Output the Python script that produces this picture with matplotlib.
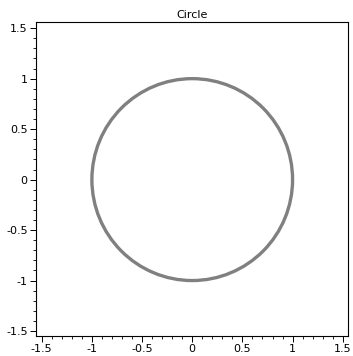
import matplotlib
matplotlib.use('Agg')
import matplotlib.pyplot as plt
from matplotlib.patches import Circle
from matplotlib.ticker import MultipleLocator

# data
center = (0.0, 0.0)
radius = 1.0
ticks = [-1.5, -1, -0.5, 0, 0.5, 1, 1.5]
tick_labels = ['-1.5', '-1', '-0.5', '0', '0.5', '1', '1.5']

plt.rcParams['axes.unicode_minus'] = False

fig = plt.figure(figsize=(3.53, 3.56), dpi=100)
ax = fig.add_axes([0.102, 0.056, 0.884, 0.883])

ax.add_patch(Circle(center, radius, fill=False, edgecolor='#808080', linewidth=2.4))

ax.set_xlim(-1.557, 1.553)
ax.set_ylim(-1.55, 1.564)

ax.set_xticks(ticks)
ax.set_xticklabels(tick_labels)
ax.set_yticks(ticks)
ax.set_yticklabels(tick_labels)
ax.xaxis.set_minor_locator(MultipleLocator(0.1))
ax.yaxis.set_minor_locator(MultipleLocator(0.1))
ax.tick_params(which='major', length=4, width=0.7, labelsize=8, pad=2)
ax.tick_params(which='minor', length=2, width=0.6)
for s in ax.spines.values():
    s.set_linewidth(0.8)

ax.set_title('Circle', fontsize=8, pad=3)

fig.savefig('out.png', dpi=100)
